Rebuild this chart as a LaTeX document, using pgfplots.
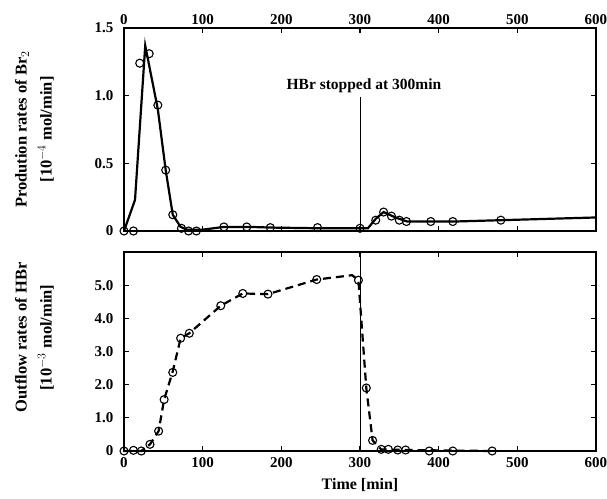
\documentclass[border=0pt]{standalone}
\usepackage{fontspec}
\setmainfont{Liberation Serif}
\usepackage{pgfplots}
\pgfplotsset{compat=1.18}

\begin{document}
\begin{tikzpicture}
\useasboundingbox (-124pt,-47pt) rectangle (483pt,451pt);
\pgfplotsset{
  panel/.style={
    scale only axis, width=472pt, xmin=0, xmax=600,
    axis line style={line width=1.3pt},
    tick style={line width=1.1pt, black},
    tick align=inside, major tick length=5pt,
    xtick={0,100,...,600}, xticklabels={0,100,200,300,400,500,600},
    font=\fontsize{15}{17}\selectfont\bfseries,
    yticklabel style={xshift=-7pt},
    ylabel style={at={(axis description cs:-0.19,0.5)}, anchor=center, align=center,
      font=\fontsize{16.5}{20}\selectfont\bfseries},
    clip=false,
  },
  curve/.style={black, line width=2.2pt, no marks},
  pts/.style={black, only marks, mark=o, mark size=4pt, mark options={line width=1.1pt}},
}

% upper panel: Br2 production
\begin{axis}[panel, at={(0pt,220pt)}, anchor=south west, height=203pt,
  ymin=0, ymax=1.5, ytick={0,0.5,1,1.5}, yticklabels={0,0.5,1.0,1.5},
  xticklabel pos=upper,
  ylabel={Prodution rates of Br$_2$\\[5pt][10$^{-4}$ mol/min]}]
\addplot[curve] coordinates {
  (0,0) (14,0.23) (27,1.37) (43,0.9) (53,0.45) (62,0.12) (72,0.03) (80,0.01)
  (100,0.01) (127,0.03) (160,0.03) (190,0.025) (250,0.02) (300,0.02) (310,0.02)
  (320,0.09) (330,0.14) (345,0.1) (360,0.07) (420,0.07) (480,0.08) (600,0.1)};
\addplot[pts] coordinates {
  (0,0) (12,0) (20,1.24) (32,1.31) (43,0.93) (53,0.45) (62,0.12) (73,0.02)
  (82,0) (92,0) (127,0.03) (156,0.03) (186,0.025) (246,0.025) (300,0.02)
  (320,0.08) (330,0.14) (340,0.11) (350,0.08) (359,0.07) (390,0.07) (418,0.07) (479,0.08)};
\draw[line width=0.8pt] (axis cs:300,0) -- (axis cs:300,0.99);
\node[font=\fontsize{15.5}{17}\selectfont\bfseries] at (axis cs:305,1.07) {HBr stopped at 300min};
\end{axis}

% lower panel: HBr outflow
\begin{axis}[panel, at={(0pt,0pt)}, anchor=south west, height=199pt,
  ymin=0, ymax=6, ytick={0,1,...,6}, yticklabels={0,1.0,2.0,3.0,4.0,5.0,},
  xticklabel style={yshift=-3pt},
  ylabel style={at={(axis description cs:-0.19,0.57)}},
  ylabel={Outflow rates of HBr\\[5pt][10$^{-3}$ mol/min]},
  xlabel style={yshift=-4pt, font=\fontsize{16}{18}\selectfont\bfseries},
  xlabel={Time [min]}]
\addplot[curve, dash pattern=on 8pt off 5pt] coordinates {
  (0,0) (22,0) (33,0.2) (44,0.6) (51,1.55) (62,2.4) (72,3.4) (83,3.55)
  (123,4.38) (151,4.75) (183,4.73) (245,5.17) (290,5.3) (298,5.15)
  (308,1.9) (316,0.32) (327,0.05) (358,0.03) (468,0)};
\addplot[pts] coordinates {
  (0,0) (12,0.02) (22,0) (33,0.2) (44,0.6) (51,1.55) (62,2.37) (72,3.4) (83,3.55)
  (123,4.38) (151,4.75) (183,4.73) (245,5.17) (298,5.15) (308,1.9) (316,0.32)
  (327,0.05) (336,0.05) (348,0.03) (358,0.03) (388,0) (418,0) (468,0)};
\draw[line width=0.8pt] (axis cs:300,0) -- (axis cs:300,6);
\end{axis}
\end{tikzpicture}
\end{document}
